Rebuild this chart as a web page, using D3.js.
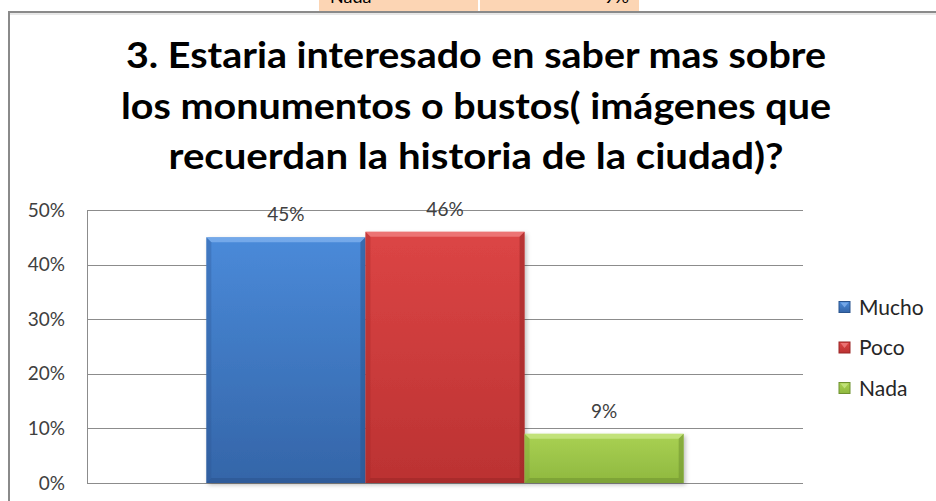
<!DOCTYPE html>
<html>
<head>
<meta charset="utf-8">
<script src="https://cdn.jsdelivr.net/npm/d3@7"></script>
<style>
  body { margin: 0; background: #fff; }
  svg { display: block; }
</style>
</head>
<body>
<div id="chart"></div>
<script>
// data
var categories = ["Mucho", "Poco", "Nada"];
var values = [0.45, 0.46, 0.09];
var yTicks = [0, 0.1, 0.2, 0.3, 0.4, 0.5];
var titleLines = [
  "3. Estaria interesado en saber mas sobre",
  "los monumentos o bustos( imágenes que",
  "recuerdan la historia de la ciudad)?"
];
// leftover table row peeking in above the chart
var tableRow = ["Nada", "9%"];

var W = 936, H = 501;
var plot = { left: 87, right: 803, top: 210, bottom: 483 };

var colors = {
  Mucho: { top: "#4a8ad9", bot: "#3465a8", light: "#7fb0ee", dark: "#2a548e" },
  Poco:  { top: "#dc4545", bot: "#bb3232", light: "#f08080", dark: "#9a2626" },
  Nada:  { top: "#a9d153", bot: "#8fb83f", light: "#c8e684", dark: "#6f9130" }
};

var svg = d3.select("#chart").append("svg")
  .attr("width", W)
  .attr("height", H);

var defs = svg.append("defs");
categories.forEach(function(c) {
  var g = defs.append("linearGradient")
    .attr("id", "grad-" + c)
    .attr("x1", 0).attr("y1", 0).attr("x2", 0).attr("y2", 1);
  g.append("stop").attr("offset", "0%").attr("stop-color", colors[c].top);
  g.append("stop").attr("offset", "100%").attr("stop-color", colors[c].bot);
});
defs.append("filter").attr("id", "shadow")
  .attr("x", "-10%").attr("y", "-10%").attr("width", "130%").attr("height", "130%")
  .append("feDropShadow")
  .attr("dx", 2).attr("dy", 2).attr("stdDeviation", 2)
  .attr("flood-color", "#000").attr("flood-opacity", 0.25);

/*********** table fragment at the very top ***********/
var cells = [{ x: 319, w: 159, t: tableRow[0], anchor: "start", tx: 330 },
             { x: 480, w: 159, t: tableRow[1], anchor: "end", tx: 629 }];
svg.selectAll(".cell").data(cells).enter().append("rect")
  .attr("x", function(d) { return d.x; })
  .attr("y", 0)
  .attr("width", function(d) { return d.w; })
  .attr("height", 11)
  .attr("fill", "#fcd5b4");
svg.selectAll(".cellText").data(cells).enter().append("text")
  .attr("x", function(d) { return d.tx; })
  .attr("y", 3)
  .attr("text-anchor", function(d) { return d.anchor; })
  .attr("font-family", "Lato, 'Liberation Sans', sans-serif")
  .attr("font-size", 18)
  .attr("fill", "#000")
  .text(function(d) { return d.t; });

/*********** chart frame ***********/
svg.append("line")
  .attr("x1", 9).attr("x2", W).attr("y1", 14).attr("y2", 14)
  .attr("stroke", "#d0d0d0").attr("stroke-width", 1);
svg.append("path")
  .attr("d", "M9," + (H + 5) + "V12H" + (W + 5))
  .attr("fill", "none")
  .attr("stroke", "#8a8a8a")
  .attr("stroke-width", 2);

/*********** title ***********/
var titleBaselines = [68, 119, 169];
var titleWidths = [700, 710, 615];
svg.selectAll(".title").data(titleLines).enter().append("text")
  .attr("class", "title")
  .attr("x", 476)
  .attr("y", function(d, i) { return titleBaselines[i]; })
  .attr("text-anchor", "middle")
  .attr("font-family", "Lato, 'Open Sans', sans-serif")
  .attr("font-weight", "bold")
  .attr("font-size", 36)
  .attr("fill", "#000")
  .attr("textLength", function(d, i) { return titleWidths[i]; })
  .attr("lengthAdjust", "spacingAndGlyphs")
  .text(function(d) { return d; });

/*********** scales + axis ***********/
var yScale = d3.scaleLinear()
  .domain([0, 0.5])
  .range([plot.bottom, plot.top]);

// gap width 150% of a bar, split on both sides
var barW = (plot.right - plot.left) / (categories.length + 1.5);
var xScale = d3.scaleBand()
  .domain(categories)
  .range([plot.left + 0.75 * barW, plot.right - 0.75 * barW])
  .padding(0);

var yAxis = d3.axisLeft(yScale)
  .tickValues(yTicks)
  .tickFormat(d3.format(".0%"))
  .tickSize(-(plot.right - plot.left))
  .tickPadding(22);

var axisG = svg.append("g")
  .attr("transform", "translate(" + plot.left + ",0)")
  .call(yAxis);
axisG.select(".domain").remove();
axisG.selectAll(".tick line")
  .attr("stroke", "#8c8c8c")
  .attr("stroke-width", 1)
  .attr("shape-rendering", "crispEdges");
axisG.selectAll(".tick text")
  .attr("font-family", "Lato, 'Liberation Sans', sans-serif")
  .attr("font-size", 19)
  .attr("fill", "#404040");

svg.append("line")
  .attr("x1", plot.left).attr("x2", plot.left)
  .attr("y1", plot.top).attr("y2", plot.bottom)
  .attr("stroke", "#8c8c8c")
  .attr("shape-rendering", "crispEdges");

/*********** bars with bevel ***********/
var barData = categories.map(function(c, i) { return { cat: c, v: values[i] }; });
var bev = 5;

var bars = svg.selectAll(".bar").data(barData).enter().append("g")
  .attr("class", "bar");

bars.append("rect")
  .attr("x", function(d) { return xScale(d.cat); })
  .attr("y", function(d) { return yScale(d.v); })
  .attr("width", xScale.bandwidth())
  .attr("height", function(d) { return plot.bottom - yScale(d.v); })
  .attr("fill", function(d) { return "url(#grad-" + d.cat + ")"; })
  .attr("filter", "url(#shadow)");

// top highlight
bars.append("path")
  .attr("d", function(d) {
    var x0 = xScale(d.cat), x1 = x0 + xScale.bandwidth(), y0 = yScale(d.v);
    return "M" + x0 + "," + y0 + "H" + x1 + "L" + (x1 - bev) + "," + (y0 + bev) + "H" + (x0 + bev) + "Z";
  })
  .attr("fill", function(d) { return colors[d.cat].light; })
  .attr("opacity", 0.8);

// side and bottom shading
bars.append("path")
  .attr("d", function(d) {
    var x0 = xScale(d.cat), x1 = x0 + xScale.bandwidth(), y0 = yScale(d.v), y1 = plot.bottom;
    return "M" + x1 + "," + y0 + "V" + y1 + "L" + (x1 - bev) + "," + (y1 - bev) + "V" + (y0 + bev) + "Z" +
      "M" + x0 + "," + y1 + "H" + x1 + "L" + (x1 - bev) + "," + (y1 - bev) + "H" + (x0 + bev) + "Z";
  })
  .attr("fill", function(d) { return colors[d.cat].dark; })
  .attr("opacity", 0.55);

bars.append("path")
  .attr("d", function(d) {
    var x0 = xScale(d.cat), y0 = yScale(d.v), y1 = plot.bottom;
    return "M" + x0 + "," + y0 + "V" + y1 + "L" + (x0 + bev) + "," + (y1 - bev) + "V" + (y0 + bev) + "Z";
  })
  .attr("fill", function(d) { return colors[d.cat].dark; })
  .attr("opacity", 0.3);

// value labels
svg.selectAll(".vlabel").data(barData).enter().append("text")
  .attr("x", function(d) { return xScale(d.cat) + xScale.bandwidth() / 2; })
  .attr("y", function(d) { return yScale(d.v) - 16; })
  .attr("text-anchor", "middle")
  .attr("font-family", "Lato, 'Liberation Sans', sans-serif")
  .attr("font-size", 19)
  .attr("fill", "#404040")
  .text(function(d) { return d3.format(".0%")(d.v); });

/*********** legend ***********/
var legendY = d3.scalePoint().domain(categories).range([307, 388]);
var leg = svg.selectAll(".legend").data(categories).enter().append("g")
  .attr("transform", function(d) { return "translate(839," + legendY(d) + ")"; });
leg.append("rect")
  .attr("x", 0).attr("y", -5.5)
  .attr("width", 11).attr("height", 11)
  .attr("fill", function(d) { return "url(#grad-" + d + ")"; })
  .attr("stroke", function(d) { return colors[d].dark; })
  .attr("stroke-width", 1);
leg.append("path")
  .attr("d", "M1.5,-4.5H9.5L5.5,0.5Z")
  .attr("fill", function(d) { return colors[d].light; })
  .attr("opacity", 0.8);
leg.append("text")
  .attr("x", 20)
  .attr("y", 7.5)
  .attr("font-family", "Lato, 'Liberation Sans', sans-serif")
  .attr("font-size", 21)
  .attr("fill", "#262626")
  .text(function(d) { return d; });
</script>
</body>
</html>
